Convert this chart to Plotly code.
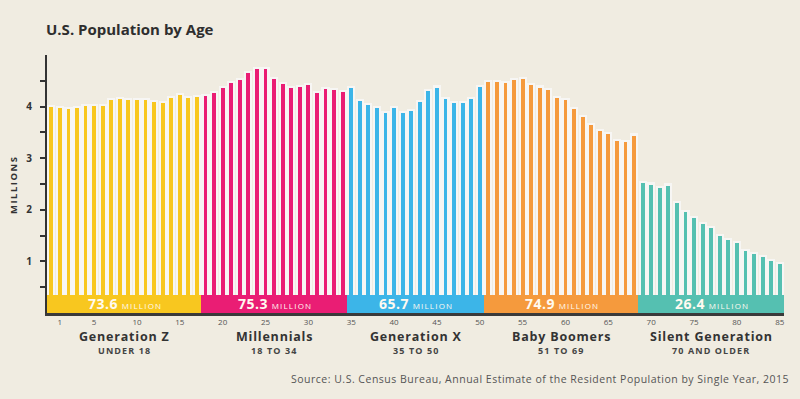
import plotly.graph_objects as go

# ---------------- data ----------------
gen_names = ["Generation Z", "Millennials", "Generation X", "Baby Boomers", "Silent Generation"]
gen_ranges = ["UNDER 18", "18 TO 34", "35 TO 50", "51 TO 69", "70 AND OLDER"]
gen_totals = ["73.6", "75.3", "65.7", "74.9", "26.4"]
gen_colors = ["#f8c71f", "#ea1d74", "#3cb5e8", "#f59a3d", "#55c0b1"]

gen_z = [3.99, 3.97, 3.96, 3.97, 4.01, 4.01, 4.01, 4.13, 4.15, 4.12, 4.12, 4.12, 4.08, 4.07, 4.16, 4.23, 4.17, 4.18]
millennials = [4.21, 4.26, 4.36, 4.45, 4.52, 4.65, 4.73, 4.72, 4.54, 4.44, 4.36, 4.38, 4.41, 4.27, 4.34, 4.33, 4.29]
gen_x = [4.36, 4.10, 4.03, 3.98, 3.88, 3.98, 3.87, 3.91, 4.09, 4.31, 4.37, 4.15, 4.07, 4.07, 4.14, 4.38]
boomers = [4.47, 4.47, 4.45, 4.51, 4.54, 4.41, 4.37, 4.32, 4.17, 4.12, 3.96, 3.79, 3.65, 3.53, 3.46, 3.34, 3.31, 3.44]
silent = [2.52, 2.49, 2.42, 2.47, 2.14, 1.95, 1.84, 1.72, 1.64, 1.50, 1.42, 1.35, 1.20, 1.15, 1.09, 1.01, 0.95]

x_tick_vals = [1, 5, 10, 15, 20, 25, 30, 35, 40, 45, 50, 55, 60, 65, 70, 75, 80, 85]
y_tick_vals = [0.5, 1, 1.5, 2, 2.5, 3, 3.5, 4, 4.5]
y_tick_text = ["", "1", "", "2", "", "3", "", "4", ""]

groups = [gen_z, millennials, gen_x, boomers, silent]

# ---------------- build ----------------
ages, vals, cols = [], [], []
seg_centers, seg_widths = [], []
start = 0
for g, c in zip(groups, gen_colors):
    for i, v in enumerate(g):
        ages.append(start + i)
        vals.append(v)
        cols.append(c)
    seg_centers.append(start + (len(g) - 1) / 2)
    seg_widths.append(len(g))
    start += len(g)

BG = "#f0ece1"
W, H = 800, 399
ML, MR, MT, MB = 47, 16, 55, 86
PW, PH = W - ML - MR, H - MT - MB


def py(pix):  # pixel y -> paper y
    return (H - MB - pix) / PH


def px(pix):  # pixel x -> paper x
    return (pix - ML) / PW


def ls(text, sp):
    return f"<span style='letter-spacing:{sp}px'>{text}</span>"


BAND_H = 0.35

fig = go.Figure()
fig.add_trace(go.Bar(x=ages, y=[v + 0.04 for v in vals], width=0.95,
                     marker=dict(color="rgba(250,249,250,0.75)", line=dict(width=0)),
                     hoverinfo="skip", showlegend=False))
fig.add_trace(go.Bar(x=ages, y=vals, width=0.45,
                     marker=dict(color=cols, line=dict(width=0)),
                     showlegend=False))
fig.add_trace(go.Bar(x=seg_centers, y=[BAND_H] * 5, width=seg_widths,
                     marker=dict(color=gen_colors, line=dict(width=0)),
                     hoverinfo="skip", showlegend=False))

FONT = "Open Sans"
ann = []
ann.append(dict(text="<b>U.S. Population by Age</b>", xref="paper", yref="paper",
                x=px(44), y=py(29), xanchor="left", yanchor="middle", showarrow=False,
                font=dict(family=FONT, size=15, color="#2e2e2e")))
ann.append(dict(text="<b>" + ls("MILLIONS", 1.5) + "</b>", xref="paper", yref="paper", textangle=-90,
                x=px(13), y=py(185), xanchor="center", yanchor="middle", showarrow=False,
                font=dict(family=FONT, size=9.5, color="#333333")))
for cx, name, rng, tot in zip(seg_centers, gen_names, gen_ranges, gen_totals):
    ann.append(dict(text=f"<b>{ls(tot, 0.5)}</b> <span style='font-size:8px;letter-spacing:1.2px'>MILLION</span>",
                    xref="x", yref="y", x=cx + 0.1, y=BAND_H / 2, xanchor="center", yanchor="middle",
                    showarrow=False, font=dict(family=FONT, size=14, color="#fffaf0")))
    ann.append(dict(text=f"<b>{ls(name, 0.8)}</b>", xref="x", yref="paper", x=cx, y=py(345.5),
                    xanchor="center", yanchor="bottom", showarrow=False, borderpad=0,
                    font=dict(family=FONT, size=12.5, color="#333333")))
    ann.append(dict(text=f"<b>{ls(rng, 1.1)}</b>", xref="x", yref="paper", x=cx, y=py(343),
                    xanchor="center", yanchor="top", showarrow=False, borderpad=0,
                    font=dict(family=FONT, size=9, color="#444444")))
ann.append(dict(text=ls("Source: U.S. Census Bureau, Annual Estimate of the Resident Population by Single Year, 2015", 0.5),
                xref="paper", yref="paper", x=px(791), y=py(379), xanchor="right", yanchor="middle",
                showarrow=False, font=dict(family=FONT, size=10.5, color="#555555")))

fig.update_layout(
    width=W, height=H, autosize=False,
    margin=dict(l=ML, r=MR, t=MT, b=MB, pad=0),
    paper_bgcolor=BG, plot_bgcolor=BG,
    barmode="overlay", bargap=0,
    annotations=ann,
    xaxis=dict(range=[-0.5, 85.5], tickvals=x_tick_vals, ticks="", showgrid=False, zeroline=False,
               showline=True, linecolor="#3a3a3a", linewidth=2.5,
               tickfont=dict(family=FONT, size=8, color="#555555"), fixedrange=True),
    yaxis=dict(range=[0, 5.0], tickvals=y_tick_vals, ticktext=y_tick_text, ticks="outside",
               ticklen=5, tickwidth=1.5, tickcolor="#333333", showgrid=False, zeroline=False,
               showline=True, linecolor="#333333", linewidth=2, ticklabelstandoff=6,
               tickfont=dict(family=FONT, size=10, color="#333333", weight="bold"), fixedrange=True),
)

fig.write_html("out.html", config={"displayModeBar": False})
